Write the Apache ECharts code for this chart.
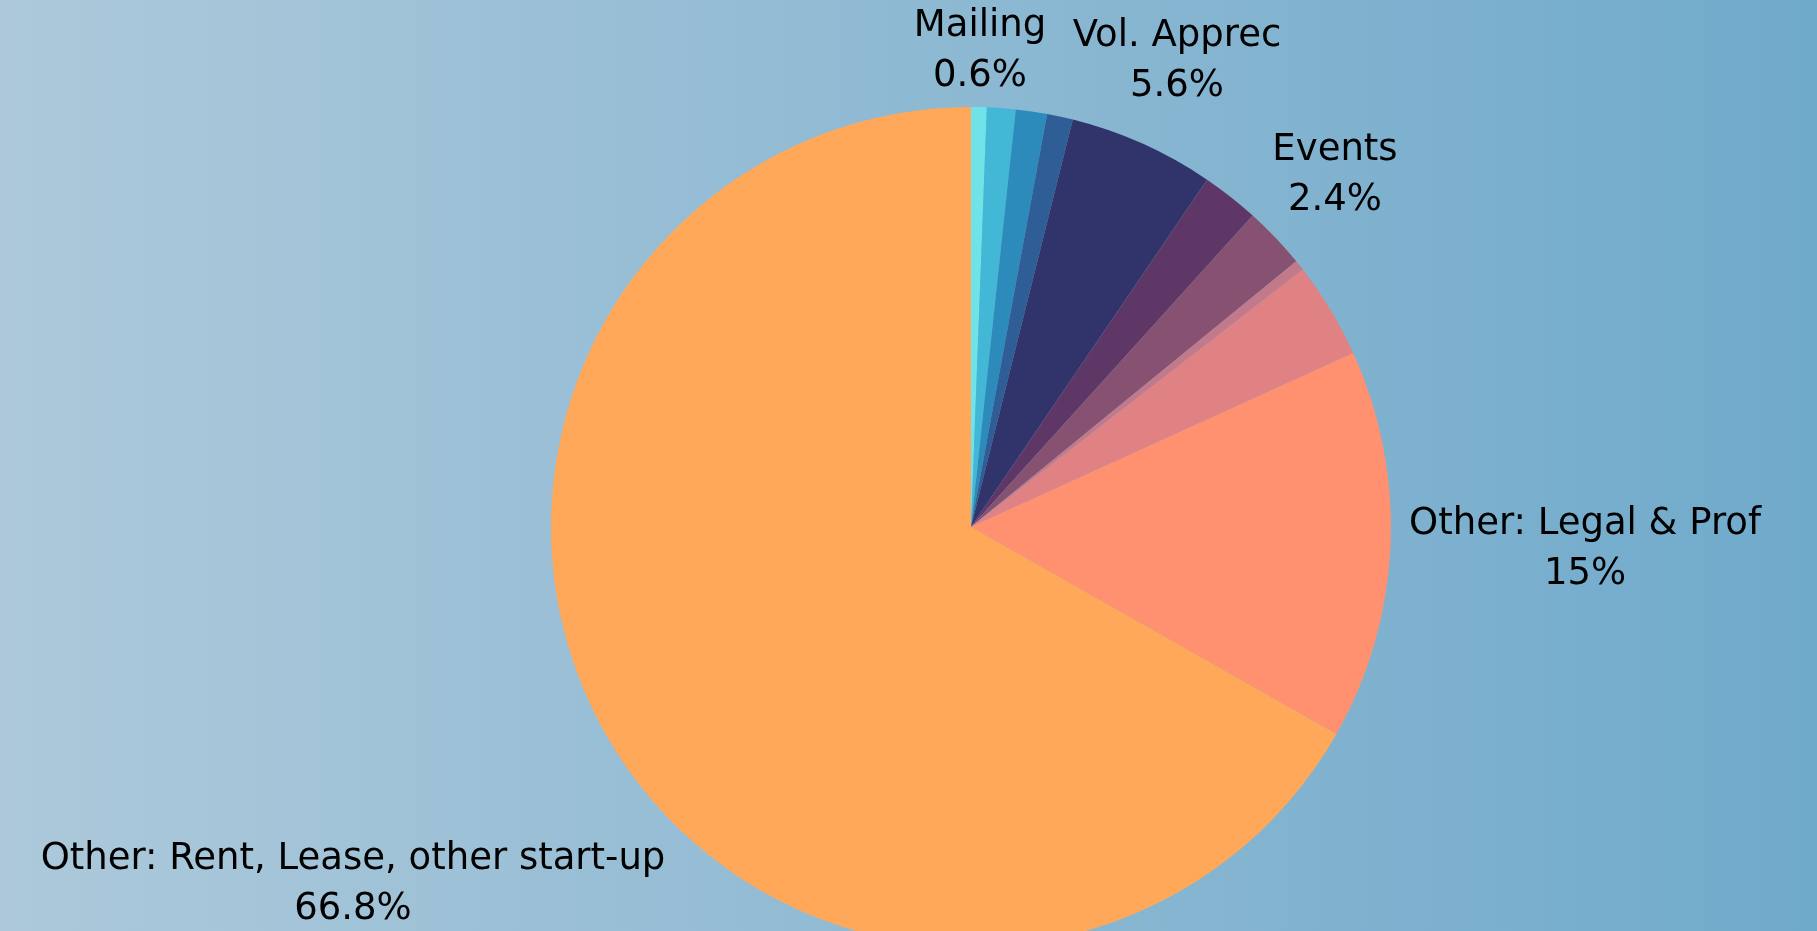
<!DOCTYPE html>
<html>
<head>
<meta charset="utf-8">
<script src="https://cdn.jsdelivr.net/npm/echarts@6/dist/echarts.min.js"></script>
<style>
    html, body { margin: 0; padding: 0; }
    #chart { width: 1817px; height: 931px; }
</style>
</head>
<body>
<div id="chart"></div>
<script>
    // slices, clockwise from 12 o'clock (values in percent)
    var names = ['Mailing', 'Printing', 'Supplies', 'Travel', 'Vol. Apprec', 'Training',
        'Events', 'Insurance', 'Other: Equipment', 'Other: Legal & Prof', 'Other: Rent, Lease, other start-up'];
    var values = [0.6, 1.1, 1.2, 1.0, 5.6, 2.2, 2.4, 0.4, 3.7, 15, 66.8];
    var colors = ['#6fe3e8', '#43b7d6', '#2d8bbb', '#2f5e96', '#30346b', '#5e3766',
        '#875272', '#c27a8a', '#e08283', '#ff9070', '#ffa85a'];
    // only these slices carry a visible label
    var labelled = ['Mailing', 'Vol. Apprec', 'Events', 'Other: Legal & Prof', 'Other: Rent, Lease, other start-up'];

    // where each visible label sits (text block centre)
    var labelPos = {
        'Mailing': [980, 51],
        'Vol. Apprec': [1177, 61],
        'Events': [1335, 175],
        'Other: Legal & Prof': [1585, 549],
        'Other: Rent, Lease, other start-up': [353, 884]
    };

    var chart = echarts.init(document.getElementById('chart'));

    var data = names.map(function (n, i) {
        return {
            name: n,
            value: values[i],
            itemStyle: { color: colors[i] },
            label: { show: labelled.indexOf(n) >= 0 }
        };
    });

    var option = {
        backgroundColor: {
            type: 'linear', x: 0, y: 0, x2: 1, y2: 0,
            colorStops: [
                { offset: 0, color: '#adc9db' },
                { offset: 1, color: '#70aacb' }
            ]
        },
        animation: false,
        series: [
            {
                type: 'pie',
                center: [971, 527],
                radius: 420,
                startAngle: 90,
                clockwise: true,
                avoidLabelOverlap: false,
                data: data,
                itemStyle: { borderWidth: 0 },
                label: {
                    position: 'outside',
                    color: '#000',
                    fontFamily: 'DejaVu Sans',
                    fontSize: 37,
                    lineHeight: 50,
                    align: 'center',
                    formatter: function (p) {
                        return p.name + '\n' + p.value + '%';
                    }
                },
                labelLine: { show: false },
                labelLayout: function (params) {
                    var pos = labelPos[names[params.dataIndex]];
                    if (!pos) return {};
                    return {
                        x: pos[0],
                        y: pos[1],
                        align: 'center',
                        verticalAlign: 'middle'
                    };
                }
            }
        ]
    };

    chart.setOption(option);
</script>
</body>
</html>
